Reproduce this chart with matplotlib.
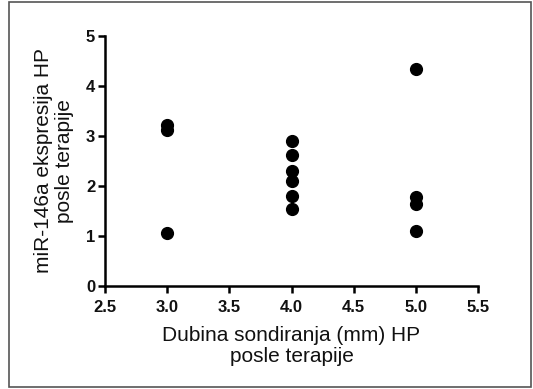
import matplotlib
matplotlib.use("Agg")
import matplotlib.pyplot as plt
from matplotlib.patches import Rectangle

x_group_3 = [3.0, 3.0, 3.0]
y_group_3 = [3.22, 3.12, 1.05]
x_group_4 = [4.0, 4.0, 4.0, 4.0, 4.0, 4.0]
y_group_4 = [2.90, 2.61, 2.29, 2.09, 1.79, 1.53]
x_group_5 = [5.0, 5.0, 5.0, 5.0]
y_group_5 = [4.33, 1.78, 1.63, 1.09]

x_ticks = [2.5, 3.0, 3.5, 4.0, 4.5, 5.0, 5.5]
y_ticks = [0, 1, 2, 3, 4, 5]
x_label = "Dubina sondiranja (mm) HP\nposle terapije"
y_label = "miR-146a ekspresija HP\nposle terapije"

plt.rcParams['font.family'] = ['Liberation Sans', 'DejaVu Sans']

fig = plt.figure(figsize=(5.33, 3.89), dpi=100)
fig.patches.append(Rectangle((0.017, 0.005), 0.98, 0.99, transform=fig.transFigure,
                             fill=False, edgecolor='#555555', linewidth=1.2))
ax = fig.add_axes([0.197, 0.265, 0.700, 0.643])

xs = x_group_3 + x_group_4 + x_group_5
ys = y_group_3 + y_group_4 + y_group_5
ax.scatter(xs, ys, s=72, color='black', zorder=3, clip_on=False)

ax.set_xlim(2.5, 5.5)
ax.set_ylim(0, 5)
ax.set_xticks(x_ticks)
ax.set_xticklabels([f"{v:.1f}" for v in x_ticks])
ax.set_yticks(y_ticks)
ax.set_yticklabels([str(v) for v in y_ticks])
for s in ['top', 'right']:
    ax.spines[s].set_visible(False)
for s in ['left', 'bottom']:
    ax.spines[s].set_linewidth(1.8)
ax.tick_params(axis='both', direction='out', length=5, width=1.8, labelsize=12)
ax.tick_params(axis='x', pad=5)
ax.tick_params(axis='y', pad=2)
for lbl in ax.get_xticklabels() + ax.get_yticklabels():
    lbl.set_fontweight('bold')
    lbl.set_color('#111111')

ax.set_xlabel(x_label, fontsize=15, labelpad=8, linespacing=1.12, color='#111111')
ax.set_ylabel(y_label, fontsize=15, labelpad=9, linespacing=1.12, color='#111111')

fig.savefig("out.png", dpi=100)
